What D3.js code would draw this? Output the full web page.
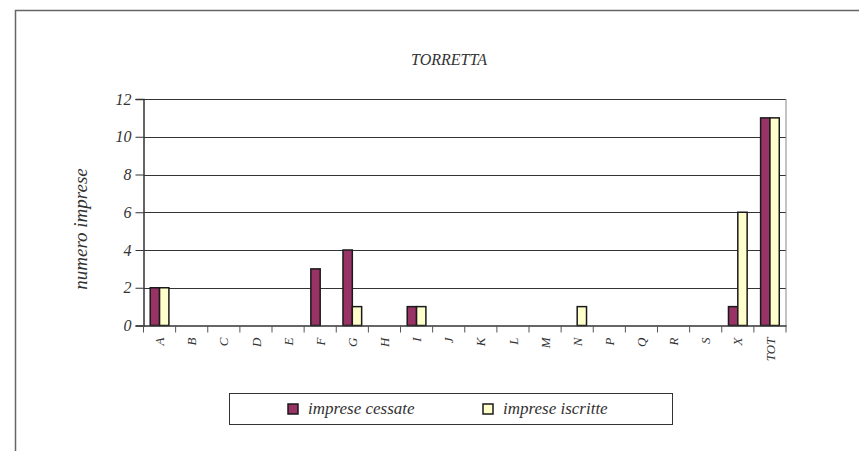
<!DOCTYPE html>
<html><head><meta charset="utf-8">
<script src="https://cdn.jsdelivr.net/npm/d3@7/dist/d3.min.js"></script>
<style>html,body{margin:0;padding:0;background:#fff;}</style>
</head>
<body><svg id="c" width="859" height="451"></svg>
<script>
const categories = ["A","B","C","D","E","F","G","H","I","J","K","L","M","N","P","Q","R","S","X","TOT"];
const cessate = [2,0,0,0,0,3,4,0,1,0,0,0,0,0,0,0,0,0,1,11];
const iscritte = [2,0,0,0,0,0,1,0,1,0,0,0,0,1,0,0,0,0,6,11];
const seriesNames = ["imprese cessate","imprese iscritte"];
const seriesColors = ["#993366","#FFFFCC"];
const yTicks = [0,2,4,6,8,10,12];
const title = "TORRETTA";
const yTitle = "numero imprese";

const FONT = "Liberation Serif";
const svg = d3.select("#c");
// outer frame
svg.append("path").attr("d","M15.5,460 V10.5 H870").attr("fill","none").attr("stroke","#666").attr("stroke-width",1.5);

const L=143.5, R=786, T=99, B=325.5;
const x = d3.scaleBand().domain(categories).range([L,R]).paddingInner(0).paddingOuter(0);
const y = d3.scaleLinear().domain([0,12]).range([B,T]);
const xs = d3.scaleBand().domain([0,1]).range([0,x.bandwidth()]).paddingInner(0).paddingOuter(0.72);

// gridlines
svg.append("g").selectAll("line").data(yTicks.filter(d=>d>0)).join("line")
 .attr("x1",L).attr("x2",R).attr("y1",d=>Math.round(y(d))+0.5).attr("y2",d=>Math.round(y(d))+0.5)
 .attr("stroke","#333").attr("stroke-width",1);
// right border
svg.append("line").attr("x1",R).attr("x2",R).attr("y1",T).attr("y2",B).attr("stroke","#888").attr("stroke-width",1);

// bars
const data = categories.map((c,i)=>({c, v:[cessate[i],iscritte[i]]}));
const g = svg.append("g");
data.forEach(d=>{
  d.v.forEach((v,k)=>{
    if(v<=0) return;
    g.append("rect").attr("x",x(d.c)+xs(k)).attr("width",xs.bandwidth())
     .attr("y",y(v)).attr("height",y(0)-y(v))
     .attr("fill",seriesColors[k]).attr("stroke","#1a1a1a").attr("stroke-width",1.5);
  });
});

// y axis
const ya = svg.append("g").attr("transform",`translate(${L},0)`)
 .call(d3.axisLeft(y).tickValues(yTicks).tickSize(8).tickPadding(4).tickFormat(d3.format("d")));
ya.attr("font-family",FONT);
ya.select(".domain").attr("stroke","#333").attr("stroke-width",1.5);
ya.selectAll(".tick line").attr("stroke","#333");
ya.selectAll("text").attr("font-family",FONT).attr("font-size","16px").attr("fill","#333").attr("font-style","italic");

// x axis
const xa = svg.append("g").attr("transform",`translate(0,${B})`)
 .call(d3.axisBottom(x).tickSize(0).tickFormat(d=>d));
xa.attr("font-family",FONT);
xa.select(".domain").attr("stroke","#333").attr("stroke-width",1.5);
xa.selectAll(".tick text").attr("font-family",FONT).attr("font-size","13px").attr("fill","#333").attr("font-style","italic")
 .attr("transform","rotate(-90)").attr("text-anchor","end").attr("x",-12).attr("y",0).attr("dy","0.35em");
// x separators
svg.append("g").selectAll("line").data(categories.concat(["__end"])).join("line")
 .attr("x1",(d,i)=>L+i*x.bandwidth()).attr("x2",(d,i)=>L+i*x.bandwidth())
 .attr("y1",B).attr("y2",B+7).attr("stroke","#555").attr("stroke-width",1);

// title
svg.append("text").attr("x",449).attr("y",65).attr("text-anchor","middle").attr("font-family",FONT).attr("font-style","italic")
 .attr("font-size","16px").attr("fill","#333").text(title);
// y title
svg.append("text").attr("transform","translate(87,229) rotate(-90)").attr("text-anchor","middle").attr("font-family",FONT).attr("font-style","italic")
 .attr("font-size","19px").attr("fill","#333").text(yTitle);

// legend
svg.append("rect").attr("x",229.5).attr("y",393.5).attr("width",443).attr("height",31)
 .attr("fill","#fff").attr("stroke","#333").attr("stroke-width",1);
const lx=[288,483];
seriesNames.forEach((n,k)=>{
  svg.append("rect").attr("x",lx[k]).attr("y",404).attr("width",10).attr("height",10)
   .attr("fill",seriesColors[k]).attr("stroke","#1a1a1a").attr("stroke-width",1.5);
  svg.append("text").attr("x",lx[k]+20).attr("y",414).attr("font-family",FONT).attr("font-style","italic")
   .attr("font-size","17px").attr("fill","#333").text(n);
});
</script></body></html>
